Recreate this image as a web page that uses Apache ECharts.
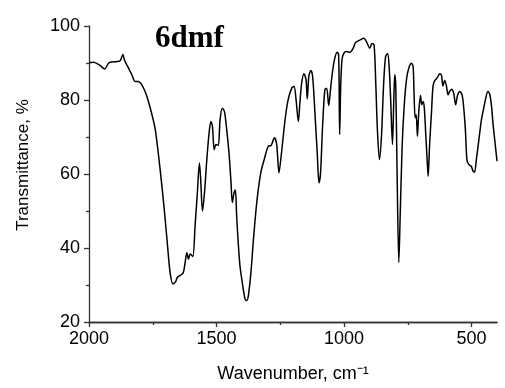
<!DOCTYPE html>
<html>
<head>
<meta charset="utf-8">
<script src="https://cdn.jsdelivr.net/npm/echarts@6/dist/echarts.min.js"></script>
<style>
  html, body { margin: 0; padding: 0; background: #fff; }
  #chart { width: 505px; height: 388px; }
</style>
</head>
<body>
<div id="chart"></div>
<script>
// IR spectrum
const wavenumber = [
  2000, 1982, 1956, 1939, 1921, 1890, 1877, 1867, 1861, 1845, 1832, 1819, 1806, 1793, 1780, 1767,
  1753, 1740, 1721, 1705, 1692, 1682, 1671, 1662, 1653, 1640, 1630, 1623, 1616, 1610, 1603, 1593,
  1584, 1575, 1567, 1562, 1555, 1547, 1538, 1529, 1522, 1516, 1509, 1502, 1493, 1486, 1477, 1469,
  1460, 1451, 1443, 1438, 1431, 1426, 1421, 1414, 1408, 1399, 1388, 1381, 1375, 1365, 1356, 1346,
  1336, 1325, 1313, 1297, 1286, 1273, 1264, 1255, 1247, 1231, 1219, 1205, 1196, 1188, 1179, 1173,
  1166, 1157, 1149, 1144, 1138, 1130, 1123, 1114, 1105, 1098, 1092, 1084, 1075, 1068, 1060, 1053,
  1045, 1036, 1027, 1021, 1017, 1013, 1008, 1001, 990, 977, 964, 955, 938, 922, 912, 899,
  890, 882, 875, 869, 861, 853, 845, 837, 829, 823, 817, 810, 805, 801, 797, 792,
  785, 780, 772, 764, 755, 746, 735, 729, 726, 721, 717, 712, 707, 700, 695, 690,
  685, 679, 674, 670, 664, 657, 651, 644, 638, 631, 625, 618, 612, 605, 598, 592,
  586, 578, 570, 562, 555, 546, 537, 531, 524, 518, 511, 501, 494, 488, 481, 471,
  461, 452, 444, 436, 429, 422, 416, 409, 400
];
const transmittance = [
  90.1, 90.2, 89.3, 88.4, 90.1, 90.4, 90.7, 92.3, 90.8, 88.6, 86.8, 85.0, 85.0, 84.1, 82.3, 79.6,
  76.0, 72.0, 61.2, 50.5, 40.6, 33.4, 30.3, 30.7, 32.1, 32.7, 33.4, 36.1, 38.8, 37.0, 38.4, 37.7,
  46.0, 55.0, 63.0, 58.5, 50.0, 55.0, 63.9, 71.1, 74.2, 72.9, 66.6, 68.0, 67.7, 74.7, 77.8, 76.9,
  72.0, 65.7, 57.6, 52.3, 55.0, 55.7, 48.7, 40.6, 35.2, 30.7, 26.2, 25.8, 27.1, 33.4, 41.5, 49.6,
  55.9, 60.8, 63.9, 67.5, 67.7, 69.8, 68.0, 60.3, 64.5, 74.7, 80.1, 83.2, 83.7, 80.1, 74.2, 79.2,
  84.6, 87.1, 85.5, 80.3, 86.4, 88.0, 86.4, 76.5, 65.7, 57.6, 60.3, 72.9, 82.8, 83.2, 78.5, 82.8,
  87.7, 91.3, 92.9, 92.2, 70.7, 83.7, 90.8, 92.6, 93.1, 92.9, 94.0, 95.5, 96.2, 96.7, 95.8, 94.0,
  95.3, 94.9, 83.7, 72.0, 63.9, 70.2, 83.7, 91.7, 92.6, 89.0, 80.1, 68.0, 79.2, 86.8, 83.7, 61.2,
  36.1, 47.8, 67.5, 78.3, 85.5, 88.6, 89.9, 89.0, 83.5, 75.2, 76.0, 70.2, 76.5, 81.2, 78.7, 79.6,
  77.8, 70.2, 63.9, 59.4, 68.4, 76.5, 83.7, 85.3, 85.7, 86.4, 87.1, 86.8, 83.8, 85.3, 83.7, 81.4,
  82.3, 82.9, 81.9, 78.7, 81.2, 82.3, 81.4, 78.3, 72.0, 63.9, 62.6, 62.1, 60.8, 60.5, 63.9, 69.3,
  74.7, 77.8, 80.5, 82.3, 81.7, 78.7, 73.8, 69.3, 63.5
];
const xMajorTicks = [2000, 1500, 1000, 500];
const xMinorTicks = [1750, 1250, 750];

const chart = echarts.init(document.getElementById('chart'));

const axisFont = { fontFamily: 'Liberation Sans, Arial, sans-serif', fontSize: 18, color: '#000' };
const axisLineStyle = { color: '#333', width: 1.3 };

chart.setOption({
  animation: false,
  title: {
    text: '6dmf',
    left: 150,
    top: 18,
    textStyle: { fontFamily: 'Liberation Serif, Times New Roman, serif', fontWeight: 'bold', fontSize: 31, color: '#000' }
  },
  grid: { left: 89, right: 8, top: 26, bottom: 65 },
  xAxis: [
    {
      type: 'value',
      min: 400,
      max: 2000,
      inverse: true,
      name: 'Wavenumber, cm⁻¹',
      nameLocation: 'middle',
      nameGap: 43,
      nameTextStyle: axisFont,
      axisLine: { lineStyle: axisLineStyle },
      axisTick: { customValues: xMajorTicks, length: 5, lineStyle: axisLineStyle },
      axisLabel: { customValues: xMajorTicks, margin: 8, formatter: v => String(v), ...axisFont },
      splitLine: { show: false }
    },
    {
      type: 'value',
      min: 400,
      max: 2000,
      inverse: true,
      position: 'bottom',
      axisLine: { show: true, lineStyle: axisLineStyle },
      axisTick: { show: true, customValues: xMinorTicks, length: 3, lineStyle: axisLineStyle },
      axisLabel: { show: false },
      splitLine: { show: false }
    }
  ],
  yAxis: {
    type: 'value',
    min: 20,
    max: 100,
    interval: 20,
    name: 'Transmittance, %',
    nameLocation: 'middle',
    nameGap: 57,
    nameTextStyle: { ...axisFont, fontSize: 17, padding: [0, 0, 0, 18] },
    axisLine: { show: true, lineStyle: axisLineStyle },
    axisTick: { show: true, length: 5, lineStyle: axisLineStyle },
    minorTick: { show: true, splitNumber: 2, length: 3, lineStyle: axisLineStyle },
    axisLabel: { margin: 9, ...axisFont },
    splitLine: { show: false }
  },
  series: [
    {
      type: 'line',
      data: wavenumber.map((w, i) => [w, transmittance[i]]),
      showSymbol: false,
      smooth: 0.3,
      lineStyle: { color: '#000', width: 1.5 }
    }
  ]
});
</script>
</body>
</html>
